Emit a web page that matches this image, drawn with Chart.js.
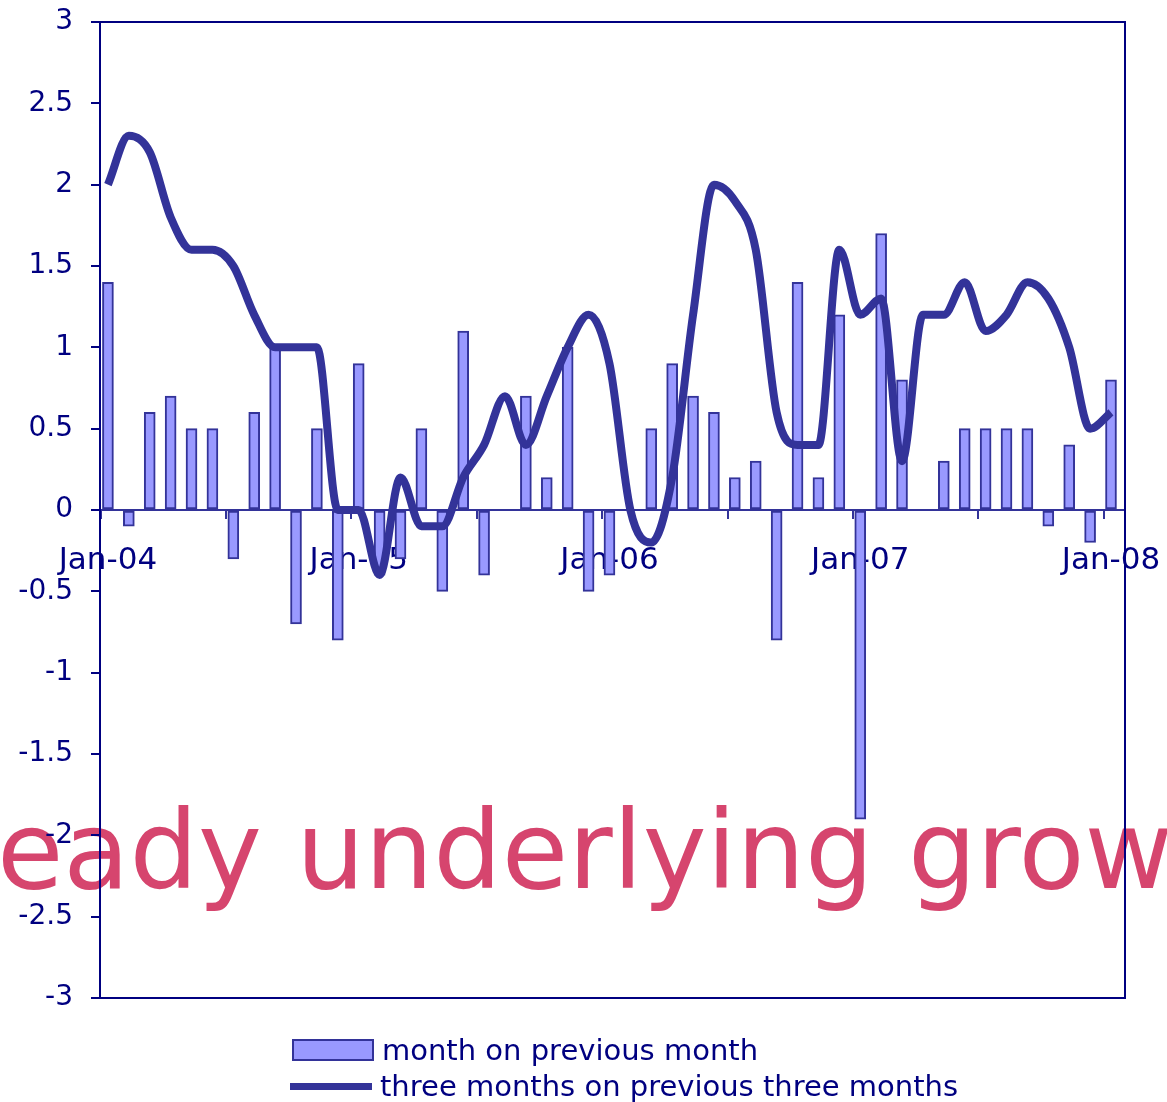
<!DOCTYPE html>
<html>
<head>
<meta charset="utf-8">
<script src="https://cdn.jsdelivr.net/npm/chart.js@4.4.1/dist/chart.umd.min.js"></script>
<style>
    body { margin: 0; background: #fff; }
    #wrap { position: relative; width: 1167px; height: 1102px; }
    #legend { position: absolute; left: 290px; top: 1032px; font: 29px "DejaVu Sans"; color: #000080; }
    .item { display: flex; align-items: center; height: 36px; }
    .box { width: 78px; height: 18px; background: #9999ff; border: 2px solid #333399; margin-left: 2px; margin-right: 8px; }
    .line { width: 82px; height: 7px; background: #333399; margin-right: 8px; }
</style>
</head>
<body>
<div id="wrap">
    <canvas id="chart"></canvas>
    <div id="legend"></div>
</div>
<script>
// Data (month index 0 = Jan-04)
const yearLabels = ['Jan-04', 'Jan-05', 'Jan-06', 'Jan-07', 'Jan-08'];
const yearIndex = [0, 12, 24, 36, 48];
const monthTicks = [-0.35, 5.65, 11.65, 17.65, 23.65, 29.65, 35.65, 41.65, 47.65];

const monthOnMonth = [
    1.4, -0.1, 0.6, 0.7, 0.5, 0.5, -0.3, 0.6, 1.0, -0.7, 0.5, -0.8,
    0.9, -0.4, -0.3, 0.5, -0.5, 1.1, -0.4, 0, 0.7, 0.2, 1.0, -0.5,
    -0.4, 0, 0.5, 0.9, 0.7, 0.6, 0.2, 0.3, -0.8, 1.4, 0.2, 1.2,
    -1.9, 1.7, 0.8, 0, 0.3, 0.5, 0.5, 0.5, 0.5, -0.1, 0.4, -0.2,
    0.8
];
const threeOnThree = [
    2.0, 2.3, 2.2, 1.8, 1.6, 1.6, 1.5, 1.2, 1.0, 1.0, 1.0, 0.0,
    0.0, -0.4, 0.2, -0.1, -0.1, 0.2, 0.4, 0.7, 0.4, 0.7, 1.0, 1.2,
    0.9, 0.0, -0.2, 0.2, 1.2, 2.0, 1.9, 1.6, 0.6, 0.4, 0.4, 1.6,
    1.2, 1.3, 0.3, 1.2, 1.2, 1.4, 1.1, 1.2, 1.4, 1.3, 1.0, 0.5,
    0.6
];
const seriesNames = ['month on previous month', 'three months on previous three months'];
const bgTitle = 'Steady underlying growth';

const navy = '#000080';
const barLine = '#333399';
const barFill = '#9999ff';

// Big title sitting behind the chart
const bgTitlePlugin = {
    id: 'bgTitle',
    beforeDraw(chart) {
        const ctx = chart.ctx;
        ctx.save();
        ctx.font = '108px "DejaVu Sans"';
        ctx.fillStyle = '#d6456e';
        ctx.textBaseline = 'alphabetic';
        ctx.fillText(bgTitle, -114, 888);
        ctx.restore();
    }
};

// Box round the plot area
const framePlugin = {
    id: 'frame',
    afterDraw(chart) {
        const a = chart.chartArea;
        const ctx = chart.ctx;
        ctx.save();
        ctx.strokeStyle = navy;
        ctx.lineWidth = 2;
        ctx.strokeRect(a.left, a.top, a.right - a.left, a.bottom - a.top);
        ctx.restore();
    }
};

// no extra room for overhanging tick labels
function noPad(s) {
    s.paddingTop = 0;
    s.paddingBottom = 0;
    s.paddingLeft = 0;
    s.paddingRight = 0;
}

const ctx = document.getElementById('chart').getContext('2d');
const chart = new Chart(ctx, {
    type: 'bar',
    data: {
        datasets: [{
            type: 'line',
            label: seriesNames[1],
            data: threeOnThree.map((v, i) => ({ x: i, y: v })),
            borderColor: barLine,
            borderWidth: 8,
            pointRadius: 0,
            cubicInterpolationMode: 'monotone',
            order: 0
        }, {
            type: 'bar',
            label: seriesNames[0],
            data: monthOnMonth.map((v, i) => ({ x: i, y: v })),
            backgroundColor: barFill,
            borderColor: barLine,
            borderWidth: 2,
            borderSkipped: false,
            barThickness: 11,
            order: 1
        }]
    },
    options: {
        responsive: true,
        maintainAspectRatio: false,
        animation: false,
        layout: { padding: { top: 22, right: 42, bottom: 104, left: 0 } },
        plugins: {
            legend: { display: false },
            tooltip: { enabled: false }
        },
        scales: {
            x: {
                type: 'linear',
                position: { y: 0 },
                offset: false,
                min: -0.38,
                max: 48.67,
                afterBuildTicks: s => { s.ticks = yearIndex.map(v => ({ value: v })); },
                ticks: {
                    color: navy,
                    font: { family: 'DejaVu Sans', size: 31 },
                    padding: 24,
                    maxRotation: 0,
                    callback: v => yearLabels[yearIndex.indexOf(v)]
                },
                grid: { display: false, offset: false },
                border: { color: barLine, width: 2 },
                afterFit: noPad
            },
            x2: {
                type: 'linear',
                position: { y: 0 },
                offset: false,
                min: -0.38,
                max: 48.67,
                afterBuildTicks: s => { s.ticks = monthTicks.map(v => ({ value: v })); },
                ticks: { display: false },
                grid: { drawOnChartArea: false, offset: false, tickLength: 9, color: barLine, lineWidth: 2 },
                border: { display: false },
                afterFit: noPad
            },
            y: {
                min: -3,
                max: 3,
                ticks: {
                    stepSize: 0.5,
                    color: navy,
                    font: { family: 'DejaVu Sans', size: 28 },
                    padding: 18,
                    callback: v => String(v)
                },
                grid: { drawOnChartArea: false, tickLength: 9, color: navy, lineWidth: 2 },
                border: { color: navy, width: 2 },
                afterFit: s => { noPad(s); s.width = 100; }
            }
        }
    },
    plugins: [bgTitlePlugin, framePlugin]
});

// Legend
const legend = document.getElementById('legend');
legend.innerHTML = `
    <div class="item"><span class="box"></span>${seriesNames[0]}</div>
    <div class="item"><span class="line"></span>${seriesNames[1]}</div>
`;
</script>
</body>
</html>
